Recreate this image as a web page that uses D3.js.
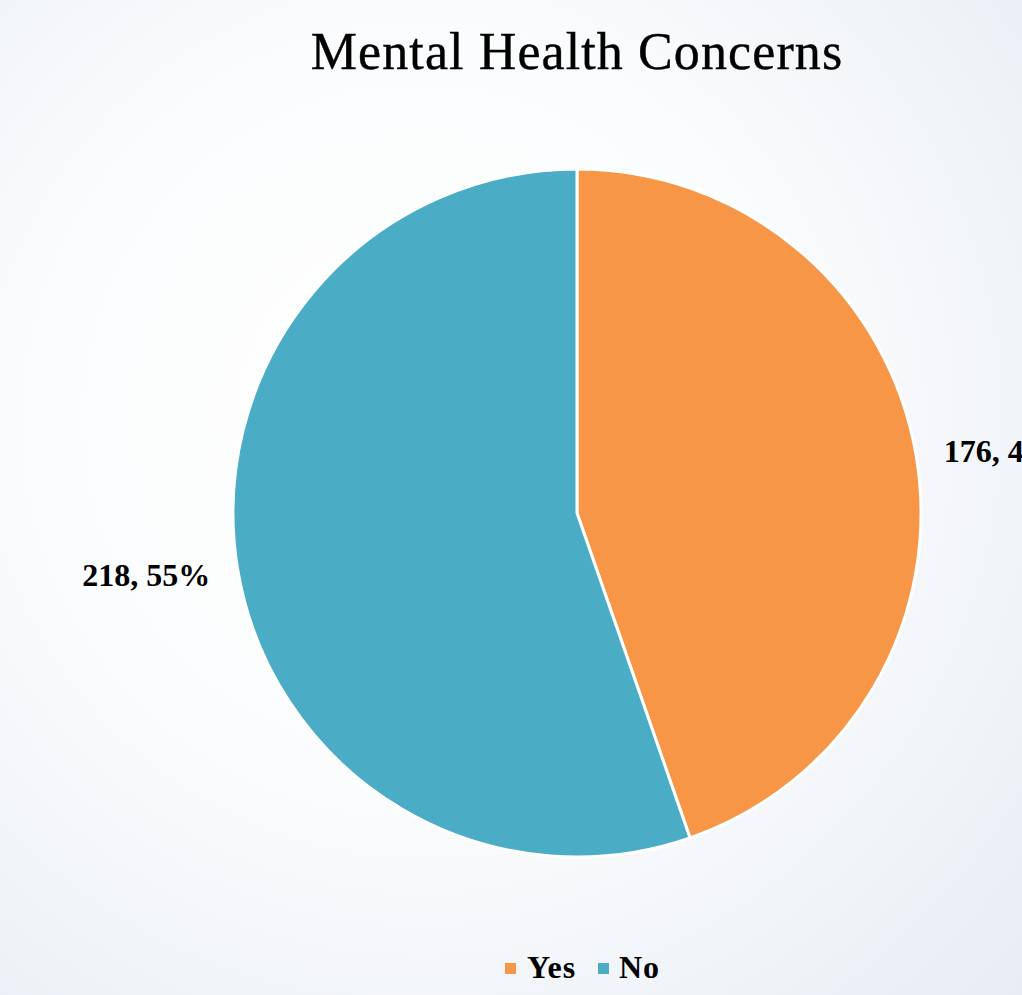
<!DOCTYPE html>
<html>
<head>
<meta charset="utf-8">
<script src="https://cdn.jsdelivr.net/npm/d3@7"></script>
<style>
  html, body { margin: 0; padding: 0; overflow: hidden; }
  svg { display: block; }
</style>
</head>
<body>
<svg id="chart" width="1022" height="995"></svg>
<script>
const categories = ["Yes", "No"];
const values = [176, 218];
const percentLabels = ["45%", "55%"];
const colors = ["#F79646", "#4BACC6"];
const title = "Mental Health Concerns";

const W = 1022, H = 995;
const svg = d3.select("#chart");

const defs = svg.append("defs");
const grad = defs.append("radialGradient")
  .attr("id", "bg").attr("gradientUnits", "userSpaceOnUse")
  .attr("cx", 420).attr("cy", 420).attr("r", 820);
grad.append("stop").attr("offset", "0%").attr("stop-color", "#ffffff");
grad.append("stop").attr("offset", "45%").attr("stop-color", "#fbfcfd");
grad.append("stop").attr("offset", "100%").attr("stop-color", "#e8edf4");
svg.append("rect").attr("width", W).attr("height", H).attr("fill", "url(#bg)");

svg.append("text")
  .attr("x", 577).attr("y", 69)
  .attr("text-anchor", "middle")
  .attr("font-family", "'Liberation Serif', serif")
  .attr("font-size", 52)
  .attr("letter-spacing", 1.1)
  .attr("fill", "#000")
  .attr("stroke", "#000").attr("stroke-width", 0.4)
  .text(title);

const cx = 577, cy = 513, R = 344;
const pie = d3.pie().sort(null).value(d => d.value);
const data = categories.map((c, i) => ({ cat: c, value: values[i], pct: percentLabels[i], color: colors[i] }));
const arcs = pie(data);
const arc = d3.arc().innerRadius(0).outerRadius(R);
const labelArc = d3.arc().innerRadius(R + 28).outerRadius(R + 28);

const g = svg.append("g").attr("transform", `translate(${cx},${cy})`);
g.selectAll("path.slice").data(arcs).join("path")
  .attr("class", "slice")
  .attr("d", arc)
  .attr("fill", d => d.data.color)
  .attr("stroke", "#ffffff")
  .attr("stroke-width", 3)
  .attr("stroke-linejoin", "round");

g.selectAll("text.lbl").data(arcs).join("text")
  .attr("class", "lbl")
  .attr("transform", d => {
    const [x, y] = labelArc.centroid(d);
    return `translate(${x},${y})`;
  })
  .attr("text-anchor", d => ((d.startAngle + d.endAngle) / 2 < Math.PI ? "start" : "end"))
  .attr("dy", "0.35em")
  .attr("font-family", "'Liberation Serif', serif")
  .attr("font-size", 32)
  .attr("font-weight", "bold")
  .attr("fill", "#000")
  .text(d => `${d.data.value}, ${d.data.pct}`);

// Legend
const legend = svg.append("g");
const items = [
  { x: 505, tx: 527 },
  { x: 598, tx: 619 }
];
categories.forEach((c, i) => {
  legend.append("rect")
    .attr("x", items[i].x).attr("y", 963)
    .attr("width", 11).attr("height", 11)
    .attr("fill", colors[i]);
  legend.append("text")
    .attr("x", items[i].tx).attr("y", 978)
    .attr("font-family", "'Liberation Serif', serif")
    .attr("font-size", 32)
    .attr("font-weight", "bold")
    .attr("letter-spacing", 1)
    .attr("fill", "#000")
    .text(c);
});
</script>
</body>
</html>
